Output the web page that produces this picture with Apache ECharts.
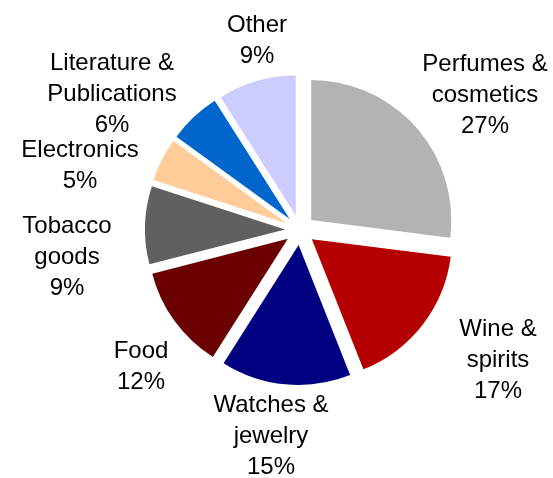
<!DOCTYPE html>
<html>
<head>
<meta charset="utf-8">
<script src="https://cdn.jsdelivr.net/npm/echarts@6/dist/echarts.min.js"></script>
<style>
  html, body { margin: 0; padding: 0; background: #fff; }
  #chart { width: 553px; height: 478px; }
</style>
</head>
<body>
<div id="chart"></div>
<script>
// Duty-free sales mix by product category (share of total, %)
const categories = [
  'Perfumes &\ncosmetics',
  'Wine &\nspirits',
  'Watches &\njewelry',
  'Food',
  'Tobacco\ngoods',
  'Electronics',
  'Literature &\nPublications',
  'Other'
];
const shares = [27, 17, 15, 12, 9, 5, 6, 9];

// Slice colours, in category order
const sliceColors = ['#B3B3B3', '#B40000', '#000080', '#6B0000', '#606060', '#FFCC99', '#0066CC', '#CCCCFF'];

// Centre of each category caption block, in category order
const labelSpots = [
  [485, 95], [498, 360], [271, 436], [141, 367],
  [67, 257], [80, 166], [112, 94], [257, 41]
];

const labelFont = {
  fontFamily: 'Liberation Sans, Arial, sans-serif',
  fontSize: 24,
  lineHeight: 31,
  fill: '#000000',
  align: 'center',
  verticalAlign: 'middle'
};

const chart = echarts.init(document.getElementById('chart'), null, { renderer: 'canvas' });

chart.setOption({
  animation: false,
  backgroundColor: '#ffffff',
  series: [{
    type: 'pie',
    center: [300, 230],
    radius: [0, 140],
    startAngle: 90,
    clockwise: true,
    selectedMode: 'multiple',
    selectedOffset: 15,
    emphasis: { disabled: true },
    label: { show: false },
    labelLine: { show: false },
    data: categories.map((name, i) => ({
      name: name,
      value: shares[i],
      selected: true,
      itemStyle: { color: sliceColors[i] }
    }))
  }],
  // Category captions: name plus its share
  graphic: categories.map((name, i) => ({
    type: 'text',
    x: labelSpots[i][0],
    y: labelSpots[i][1],
    silent: true,
    style: Object.assign({ text: name + '\n' + shares[i] + '%' }, labelFont)
  }))
});
</script>
</body>
</html>
